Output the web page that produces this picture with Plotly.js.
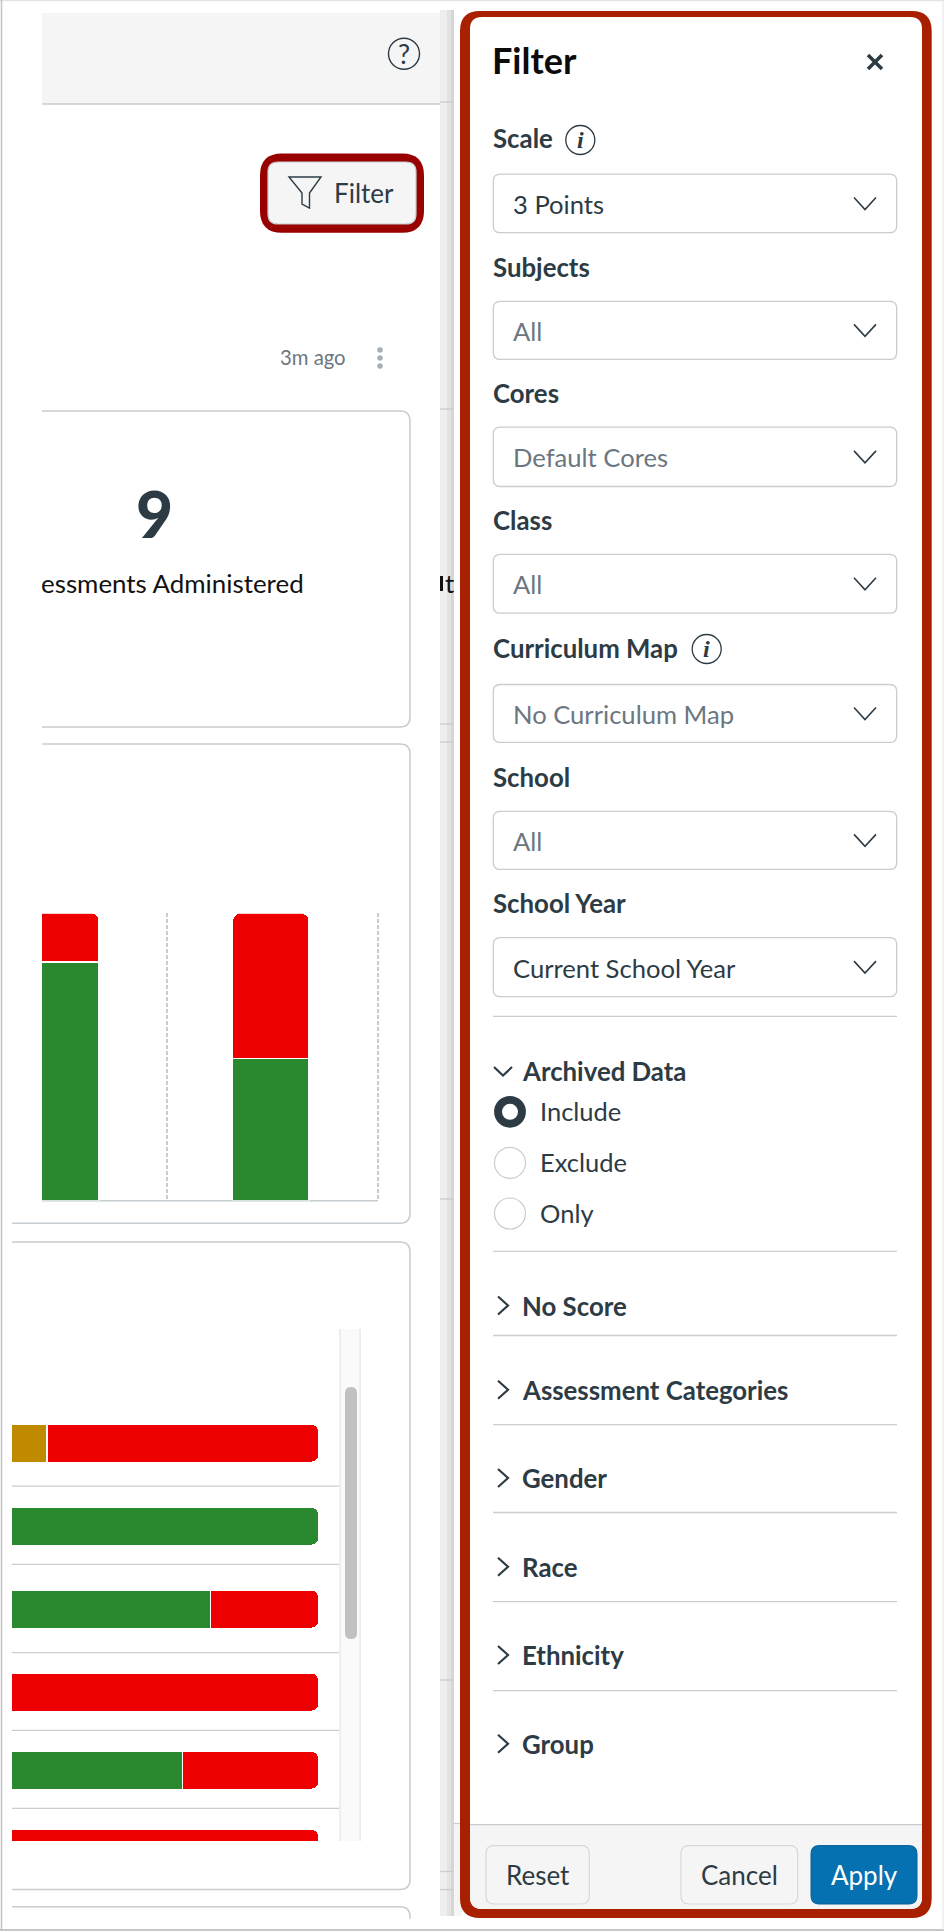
<!DOCTYPE html>
<html><head><meta charset="utf-8">
<script src="https://cdn.plot.ly/plotly-3.0.1.min.js"></script>
<style>html,body{margin:0;padding:0;background:#fff}#chart{width:944px;height:1932px}</style>
</head><body><div id="chart"></div>
<script>
// ---- chart data ----
const columnPositions = [0, 0.992];
const columnGreen = [83, 49.5];
const columnRed = [17, 50.5];
const rowPositions = [0, 1, 2, 3, 3.94, 4.88];
const rowGreen = [0, 100, 66.7, 0, 58, 0];
const rowGold = [16.3, 0, 0, 0, 0, 0];
const rowRed = [83.7, 0, 33.3, 100, 42, 100];
const GREEN = '#2a882e', RED = '#ee0000', GOLD = '#bf8a00';

// ---- interface labels ----
const selectLabels = ['Scale','Subjects','Cores','Class','Curriculum Map','School','School Year'];
const selectValues = ['3 Points','All','Default Cores','All','No Curriculum Map','All','Current School Year'];
const radioLabels = ['Include','Exclude','Only'];
const collapsedLabels = ['No Score','Assessment Categories','Gender','Race','Ethnicity','Group'];

const W = 944, H = 1932;
const X = p => p / W, Y = p => 1 - p / H;
const DARK = '#2d3b45', MUTED = '#6b7780', LINE = '#c7cdd1';
const shapes = [], annotations = [];

function pathStr(cmds){
  return cmds.map(c => c[0] + ' ' + c.slice(1).map((v,i)=> i%2===0 ? X(v) : Y(v)).join(' ')).join(' ');
}
function addPath(cmds, opt){
  opt = opt || {};
  shapes.push({type:'path', xref:'paper', yref:'paper', layer:'below', path:pathStr(cmds),
    fillcolor: opt.fill || 'rgba(0,0,0,0)',
    line:{color: opt.stroke || 'rgba(0,0,0,0)', width: opt.width === undefined ? 1.5 : opt.width}});
}
function rr(x0,y0,x1,y1,r){
  return [['M',x0+r,y0],['L',x1-r,y0],['Q',x1,y0,x1,y0+r],['L',x1,y1-r],['Q',x1,y1,x1-r,y1],
          ['L',x0+r,y1],['Q',x0,y1,x0,y1-r],['L',x0,y0+r],['Q',x0,y0,x0+r,y0],['Z']];
}
function roundBox(x0,y0,x1,y1,r,fill,stroke,width){ addPath(rr(x0,y0,x1,y1,r),{fill,stroke,width: width===undefined?1.5:width}); }
function rect(x0,y0,x1,y1,fill){
  shapes.push({type:'rect',xref:'paper',yref:'paper',layer:'below',x0:X(x0),x1:X(x1),y0:Y(y0),y1:Y(y1),fillcolor:fill,line:{width:0}});
}
function hline(x0,x1,y,color,w){ addPath([['M',x0,y],['L',x1,y]],{stroke:color||LINE,width:w||1.5}); }
function circle(cx,cy,r,fill,stroke,width){
  shapes.push({type:'circle',xref:'paper',yref:'paper',layer:'below',x0:X(cx-r),x1:X(cx+r),y0:Y(cy-r),y1:Y(cy+r),
    fillcolor:fill||'rgba(0,0,0,0)',line:{color:stroke||'rgba(0,0,0,0)',width:width===undefined?1.5:width}});
}
function txt(x,y,s,size,color,opt){
  opt = opt || {};
  const font = {family:opt.family||'Lato',size:size,color:color};
  if(opt.weight) font.weight = opt.weight;
  annotations.push({xref:'paper',yref:'paper',x:X(x),y:Y(y),text:opt.bold?'<b>'+s+'</b>':s,showarrow:false,
    xanchor:opt.anchor||'left',yanchor:'middle',borderpad:0,borderwidth:0,font});
}
function chevronDown(x0,x1,y0,y1,w,c){ addPath([['M',x0,y0],['L',(x0+x1)/2,y1],['L',x1,y0]],{stroke:c||DARK,width:w||1.5}); }
function chevronRight(x0,x1,yc){ addPath([['M',x0,yc-9],['L',x1,yc],['L',x0,yc+9]],{stroke:DARK,width:2.2}); }
function infoIcon(cx,cy){ circle(cx,cy,14.5,null,DARK,1.3); txt(cx,cy,'<b><i>i</i></b>',24,DARK,{anchor:'center',family:'Liberation Serif'}); }

// ---- page frame ----
hline(0,W,0.7,'#e4e4e4',1.2);
addPath([['M',1.5,0],['L',1.5,1930]],{stroke:'#c4c4c4',width:1.5});
hline(0,W,1930,'#b5b5b5',1.5);
addPath([['M',943,0],['L',943,1930]],{stroke:'#e4e4e4',width:1});

// ---- background page strip ----
rect(440,10,447,1916,'#eeeeee'); rect(447,10,451,1916,'#e3e3e3'); rect(451,10,454,1916,'#d6d6d6');
[102,409,724,742,1199,1680,1871.5,1889.6].forEach(y=>hline(440,454,y,LINE,1.3));
rect(454,1824,462,1916,'#f5f5f5'); hline(454,462,1823.5,LINE,1.3);

// ---- header band ----
rect(42,13,440,104,'#f5f5f5'); hline(42,440,104,LINE,1.3);
circle(404,53.8,15.5,null,DARK,1.4); txt(404,53,'?',27,DARK,{anchor:'center'});

// ---- filter button ----
roundBox(260,153.5,424,232.7,22,'#990000',null,0);
roundBox(268,162,416,224,10,'#f5f5f5',LINE,1.2);
addPath([['M',289,177],['L',321,177],['L',309.5,193],['L',309.5,208],['L',302,204],['L',302,193],['Z']],{stroke:DARK,width:1.4});
txt(334,193,'Filter',26,DARK);
txt(279.5,356.5,'3m ago',20.3,MUTED);
[350,358,366].forEach(y=>circle(380,y,2.8,'#a7b0b6',null,0));

// ---- cards ----
const cardEdge = (y0,y1,xTop,xBot)=>addPath([['M',xTop,y0],['L',400,y0],['Q',410,y0,410,y0+10],['L',410,y1-10],['Q',410,y1,400,y1],['L',xBot,y1]],{stroke:LINE,width:1.5});
cardEdge(411,727,42,42);
cardEdge(744,1223.3,42,12);
cardEdge(1242,1889.6,12,12);
addPath([['M',12,1906.8],['L',400,1906.8],['Q',410,1906.8,410,1916.8],['L',410,1918.7]],{stroke:LINE,width:1.5});
txt(154,513,'9',64,DARK,{anchor:'center',weight:900});
txt(41,582.5,'essments Administered',25.9,'#111111');
txt(445,582.5,'t',25.9,'#111111');
rect(440,576,443,591,'#111111');

// ---- baseline of the column chart, row separators and scrollbar ----
hline(42,378,1200.7,LINE,1.5);
[1486.2,1564.4,1652.6,1730.3,1808.4].forEach(y=>hline(12,339.3,y,LINE,1.3));
rect(339.3,1329,361,1841,'#fafafa');
rect(339.3,1329,341,1841,'#ececec'); rect(359.3,1329,361,1841,'#ececec');
roundBox(345,1387,357,1639,6,'#c1c1c1',null,0);

// ---- filter panel ----
roundBox(460,11,931.7,1918,20,'#a82000',null,0);
roundBox(470,17,922,1909,12,'#ffffff',null,0);
addPath([['M',470,1824.6],['L',922,1824.6],['L',922,1897],['Q',922,1909,910,1909],['L',482,1909],['Q',470,1909,470,1897],['Z']],{fill:'#f5f5f5'});
hline(470,922,1824.6,LINE,1.4);
txt(492.2,60.5,'Filter',36,'#0b0b0b',{bold:true});
addPath([['M',868,55],['L',882,69]],{stroke:DARK,width:3.6});
addPath([['M',882,55],['L',868,69]],{stroke:DARK,width:3.6});

const labelY = [138,266.7,393,519.6,647.5,776.6,902.7];
const boxTop = [174.2,301.3,427.2,554.3,684.5,811.4,937.6];
const boxBot = [232.7,359.4,486.5,613.2,742.4,869.4,996.7];
selectLabels.forEach((s,i)=>{
  txt(492.7,labelY[i],s,25.8,DARK,{bold:true});
  roundBox(493.3,boxTop[i],896.7,boxBot[i],7,'#ffffff',LINE,1.3);
  const mid=(boxTop[i]+boxBot[i])/2;
  const dark = i===0 || i===6;
  txt(513.4,mid+0.5,selectValues[i],25.6,dark?DARK:MUTED);
  chevronDown(854,876,mid-6,mid+6,1.6);
});
infoIcon(580.3,140); infoIcon(706.7,649);
hline(493,897,1016.3,LINE,1.3);

chevronDown(494,512,1067,1075.5,2.2);
txt(521.7,1071,'Archived Data',25.8,DARK,{bold:true});
const radioY=[1111.8,1162.9,1213.5];
radioLabels.forEach((s,i)=>{
  if(i===0){ circle(510,radioY[i],15.9,DARK,null,0); circle(510,radioY[i],8,'#ffffff',null,0); }
  else circle(510,radioY[i],15.5,'#ffffff',LINE,1.2);
  txt(539.8,radioY[i]-1,s,25.5,DARK);
});
hline(493,897,1251.4,LINE,1.3);

const collapsedY=[1305.5,1389.7,1478,1566.7,1655,1743.8];
const collapsedDiv=[1335.5,1424.6,1512.5,1601.6,1690.7];
collapsedLabels.forEach((s,i)=>{
  chevronRight(498,508,collapsedY[i]);
  txt(521.7,collapsedY[i],s,25.8,DARK,{bold:true});
});
collapsedDiv.forEach(y=>hline(493,897,y,LINE,1.3));

roundBox(486,1845.6,589.3,1904,8,'#f5f5f5','#d5d9dc',1.2);
roundBox(681,1845.6,797.7,1904,8,'#f5f5f5','#d5d9dc',1.2);
roundBox(811,1845.6,917,1904,8,'#0671b0','#065f96',1);
txt(537.6,1874.6,'Reset',26,DARK,{anchor:'center'});
txt(739,1874.6,'Cancel',26,DARK,{anchor:'center'});
txt(864,1874.6,'Apply',26,'#ffffff',{anchor:'center'});

// ---- traces ----
const wl = {color:'#ffffff',width:1.5};
const traces = [
  {type:'bar',name:'Green',x:columnPositions,y:columnGreen,width:0.362,marker:{color:GREEN,line:wl},xaxis:'x',yaxis:'y',hoverinfo:'skip'},
  {type:'bar',name:'Red',x:columnPositions,y:columnRed,width:0.362,marker:{color:RED,line:wl},xaxis:'x',yaxis:'y',hoverinfo:'skip'},
  {type:'bar',orientation:'h',name:'Green',x:rowGreen,y:rowPositions,width:0.46,marker:{color:GREEN,line:wl},xaxis:'x2',yaxis:'y2',hoverinfo:'skip'},
  {type:'bar',orientation:'h',name:'Gold',x:rowGold,y:rowPositions,width:0.46,marker:{color:GOLD,line:wl},xaxis:'x2',yaxis:'y2',hoverinfo:'skip'},
  {type:'bar',orientation:'h',name:'Red',x:rowRed,y:rowPositions,width:0.46,marker:{color:RED,line:wl},xaxis:'x2',yaxis:'y2',hoverinfo:'skip'}
];

const layout = {
  width:W,height:H,margin:{l:0,r:0,t:0,b:0},paper_bgcolor:'#ffffff',plot_bgcolor:'rgba(0,0,0,0)',
  showlegend:false,barmode:'stack',barcornerradius:7,
  xaxis:{domain:[X(42),X(390)],range:[-0.0896,1.5558],anchor:'y',tickmode:'array',tickvals:[0.5,1.5],ticks:'',showticklabels:false,
    showgrid:true,gridcolor:LINE,griddash:'4px,2px',gridwidth:1.5,showline:false,zeroline:false},
  yaxis:{domain:[Y(1200.7),Y(913.3)],range:[0,100],anchor:'x',showgrid:false,showline:false,showticklabels:false,ticks:'',zeroline:false},
  xaxis2:{domain:[X(12),X(339.3)],range:[5.556,106.3],anchor:'y2',visible:false},
  yaxis2:{domain:[Y(1841),Y(1329)],range:[4.793,-1.376],anchor:'x2',visible:false},
  shapes,annotations
};
Plotly.newPlot('chart',traces,layout,{displayModeBar:false,responsive:false});
</script></body></html>
